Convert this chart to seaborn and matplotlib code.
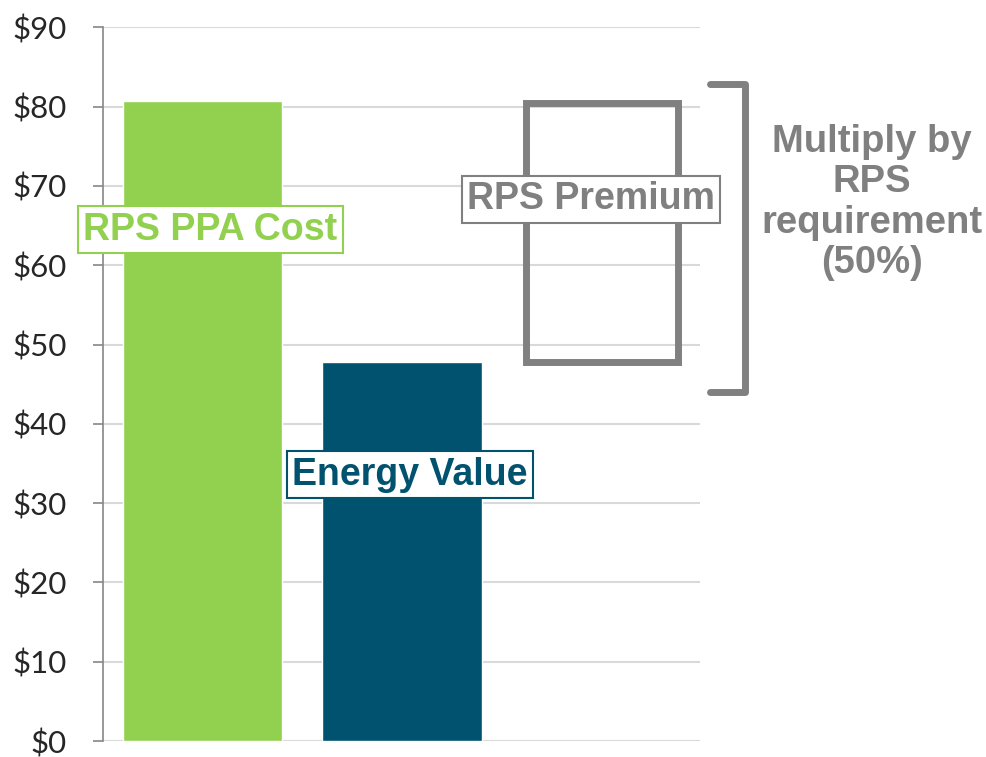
import matplotlib
matplotlib.use("Agg")
import matplotlib.pyplot as plt
import seaborn as sns
import pandas as pd

# --- data ---
categories = ["RPS PPA Cost", "Energy Value"]
values = [80.7, 47.8]
premium_bottom = 47.8
premium_top = 80.5
yticks = [0, 10, 20, 30, 40, 50, 60, 70, 80, 90]
ytick_labels = ["$0", "$10", "$20", "$30", "$40", "$50", "$60", "$70", "$80", "$90"]
bracket_text = "Multiply by\nRPS\nrequirement\n(50%)"

green = "#92D050"
teal = "#00526F"
gray = "#808080"

sns.set_style("white")
plt.rcParams["font.family"] = ["Liberation Sans", "DejaVu Sans"]

fig = plt.figure(figsize=(9.87, 7.57), dpi=100)
ax = fig.add_axes([0.104, 0.021, 0.605, 0.943])

df = pd.DataFrame({"cat": categories, "val": values})
sns.barplot(data=df, x="cat", y="val", hue="cat", palette=[green, teal],
            saturation=1, width=0.8, legend=False, ax=ax, zorder=2)

# floating premium box
ax.bar(2, premium_top - premium_bottom, bottom=premium_bottom, width=0.76,
       fill=False, edgecolor=gray, linewidth=5, zorder=3)

ax.set_xlim(-0.5, 2.49)
ax.set_ylim(0, 90)
ax.set_yticks(yticks)
ax.set_yticklabels(ytick_labels, family="Lato", fontsize=22.5)
ax.set_xticks([])
ax.set_xlabel("")
ax.set_ylabel("")
ax.yaxis.grid(True, color="#d9d9d9", linewidth=1.5, zorder=0)
ax.set_axisbelow(True)
for s in ["top", "right", "bottom"]:
    ax.spines[s].set_visible(False)
ax.spines["left"].set_color("#868686")
ax.spines["left"].set_linewidth(1.2)
ax.tick_params(axis="y", left=True, length=7, width=1.2, color="#868686", pad=19)

# labels with boxes
def boxed(x, y, text, color):
    ax.text(x, y, text, ha="center", va="center", fontsize=27, fontweight="bold",
            color=color, zorder=5,
            bbox=dict(boxstyle="square,pad=0.14", facecolor="white", edgecolor=color, linewidth=1.5))

boxed(0.04, 64.5, "RPS PPA Cost", green)
boxed(1.04, 33.6, "Energy Value", teal)
boxed(1.945, 68.3, "RPS Premium", gray)

# bracket
bx = 2.715
ax.plot([2.54, bx, bx, 2.54], [82.8, 82.8, 44.0, 44.0], color=gray, linewidth=5,
        solid_joinstyle="round", clip_on=False, zorder=4)
ax.text(3.35, 67.9, bracket_text, ha="center", va="center", fontsize=27.5,
        fontweight="bold", color=gray, linespacing=1.15, clip_on=False)

fig.savefig("out.png", dpi=100)
